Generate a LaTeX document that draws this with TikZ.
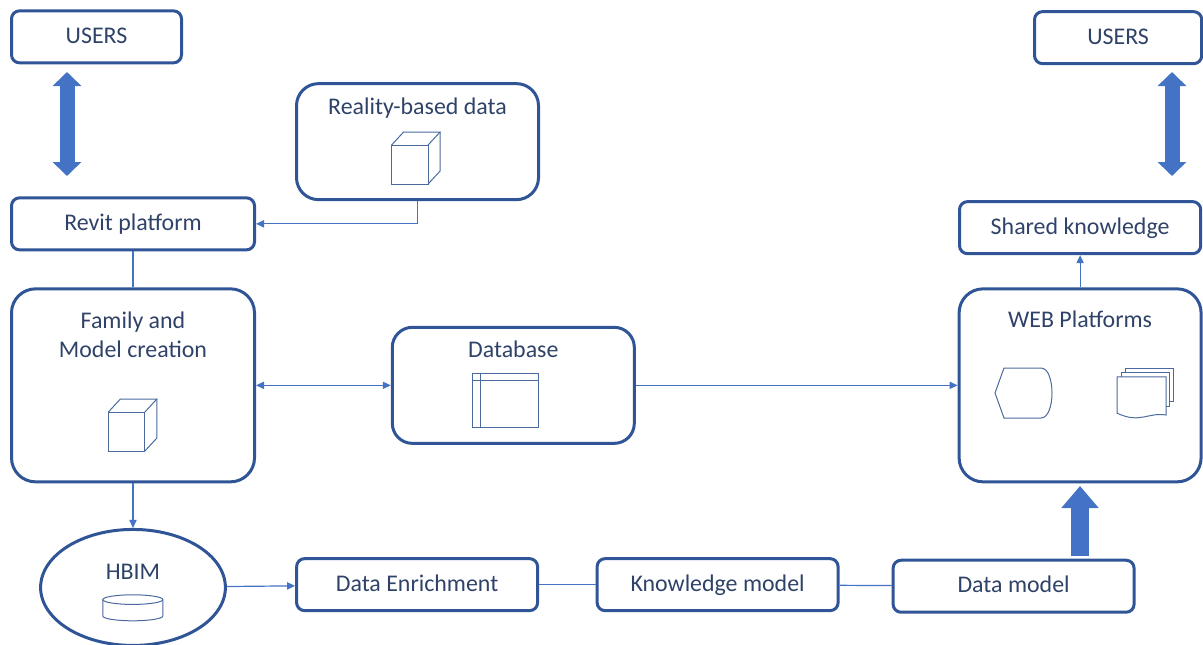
\documentclass[tikz,border=0pt]{standalone}
\usepackage{fontspec}
\setmainfont{Carlito}
\usetikzlibrary{arrows.meta,positioning,shapes.geometric}

\definecolor{boxblue}{HTML}{2F5597}
\definecolor{linkblue}{HTML}{4472C4}
\definecolor{iconblue}{HTML}{4A6A9E}
\definecolor{textblue}{HTML}{2F4268}

\tikzset{
  smallbox/.style={draw=boxblue,line width=.075cm,rounded corners=.2cm,minimum height=1.3cm,text=textblue,text height=.45cm,text depth=.12cm,font=\fontsize{17}{20}\selectfont},
  bigbox/.style={draw=boxblue,line width=.075cm,rounded corners=.6cm,minimum width=6.05cm},
  boxtext/.style={text=textblue,font=\fontsize{17}{20.6}\selectfont,align=center,inner sep=0pt},
  link/.style={draw=linkblue,line width=.03cm},
  tip/.style={-{Triangle[length=.2cm,width=.18cm]}},
  tips/.style={{Triangle[length=.2cm,width=.18cm]}-{Triangle[length=.2cm,width=.18cm]}},
  duplex/.style={draw=linkblue,line width=.375cm,{Triangle[length=.35cm,width=.7cm]}-{Triangle[length=.35cm,width=.7cm]}},
  uparrow/.style={draw=linkblue,line width=.45cm,-{Triangle[length=.55cm,width=.9cm]}},
  icon/.style={draw=iconblue,line width=.025cm},
  cubeicon/.pic={
    \draw[icon] (0,0) rectangle (.9125,.975);
    \draw[icon] (0,.975) -- (.3,1.3) -- (1.2125,1.3) -- (.9125,.975);
    \draw[icon] (.9125,0) -- (1.2125,.325) -- (1.2125,1.3);
  }
}

\begin{document}
\begin{tikzpicture}
\useasboundingbox (0,0) rectangle (30.075,-16.1);

\node[smallbox,minimum width=4.25cm] at (2.4125,-.921) (usersL) {USERS};
\node[smallbox,minimum width=6.075cm,below right=3.3cm and 0cm of usersL.south west] (revit) {Revit platform};
\node[bigbox,minimum width=6.075cm,minimum height=4.825cm,below right=.9cm and 0cm of revit.south west] (family) {};
\node[boxtext,below=.6cm of family.north] (familytxt) {Family and\\Model creation};

\node[bigbox,rounded corners=.55cm,minimum height=2.9cm,below right=1.82cm and 2.8cm of usersL.north east] (reality) {};
\node[boxtext,below=.38cm of reality.north] (realitytxt) {Reality-based data};

\node[bigbox,rounded corners=.5cm,minimum height=2.9cm,right=3.37cm of family] (database) {};
\node[boxtext,below=.38cm of database.north] (databasetxt) {Database};

\node[bigbox,minimum height=4.825cm,right=8.045cm of database] (web) {};
\node[boxtext,below=.57cm of web.north] (webtxt) {WEB Platforms};

\node[smallbox,minimum width=6.03cm,above=.805cm of web] (shared) {Shared knowledge};
\node[smallbox,minimum width=4.18cm,above left=3.375cm and -.025cm of shared.north east] (usersR) {USERS};

\node[ellipse,draw=boxblue,line width=.075cm,minimum width=4.62cm,minimum height=2.9cm,inner sep=0pt,below=1.115cm of family] (hbim) {};
\node[boxtext,below=.895cm of hbim.north] (hbimtxt) {HBIM};

\node[smallbox,minimum width=6.025cm,right=1.705cm of hbim,yshift=.07cm] (enrich) {Data Enrichment};
\node[smallbox,minimum width=6.025cm,right=1.4125cm of enrich] (knowledge) {Knowledge model};
\node[smallbox,minimum width=6.025cm,right=1.3cm of knowledge,yshift=-.04cm] (datamodel) {Data model};

\draw [link,tip] (reality.south) |- (revit.east);
\draw [link] (revit) to (family);
\draw [link,tips] (family) to (database);
\draw [link,tip] (database) to (web);
\draw [link,tip] (family) to (hbim);
\draw [link,tip] (hbim) to (enrich);
\draw [link] (enrich) to (knowledge);
\draw [link] (knowledge) to (datamodel);
\draw [link,tip] (web) to (shared);

\coordinate (leftup) at (1.675,-1.8);
\coordinate (leftdown) at (1.675,-4.4);
\coordinate (rightup) at (29.3,-1.8);
\coordinate (rightdown) at (29.3,-4.4);
\coordinate (webup) at (27,-12.15);
\coordinate (webdown) at (27,-13.9);

\draw [duplex] (leftup) to (leftdown);
\draw [duplex] (rightup) to (rightdown);
\draw [uparrow] (webdown) to (webup);

\pic at (9.79,-4.6) {cubeicon};
\pic at (2.71,-11.275) {cubeicon};

\draw [icon] (11.82,-9.325) rectangle (13.45,-10.675);
\draw [icon] (11.82,-9.51) -- (13.45,-9.51);
\draw [icon] (12.02,-9.325) -- (12.02,-10.675);

\draw [icon] (24.875,-9.825) -- (25.1,-9.2) -- (26.025,-9.2) .. controls (26.2,-9.2) and (26.3,-9.5) .. (26.3,-9.825) .. controls (26.3,-10.15) and (26.2,-10.45) .. (26.025,-10.45) -- (25.1,-10.45) -- cycle;

\draw [icon] (27.93,-9.42) -- (29.15,-9.42) -- (29.15,-10.375) .. controls (28.7,-10.3) and (28.5,-10.6) .. (27.93,-10.33) -- cycle;
\draw [icon] (28.04,-9.42) -- (28.04,-9.31) -- (29.24,-9.31) -- (29.24,-10.15) -- (29.15,-10.15);
\draw [icon] (28.14,-9.31) -- (28.14,-9.21) -- (29.34,-9.21) -- (29.34,-10.04) -- (29.24,-10.04);

\draw [icon] (3.32,-14.99) ellipse (.75cm and .12cm);
\draw [icon] (2.57,-14.99) -- (2.57,-15.4) arc (180:360:.75cm and .12cm) -- (4.07,-14.99);

\end{tikzpicture}
\end{document}
